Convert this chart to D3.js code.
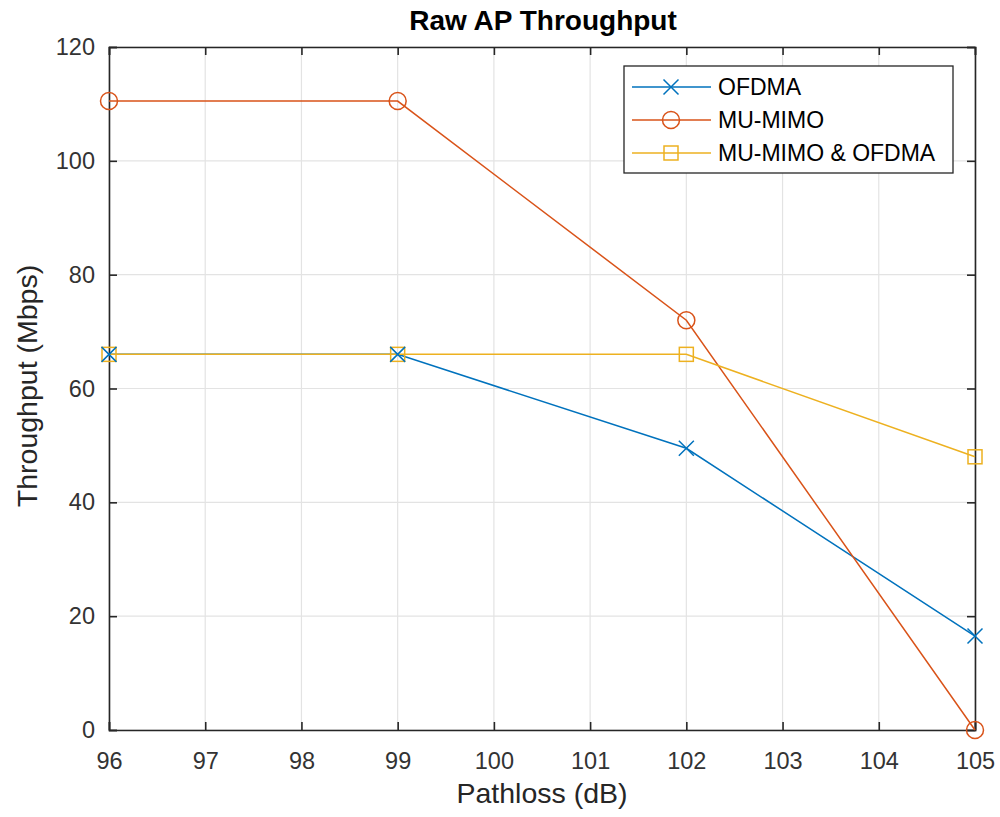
<!DOCTYPE html>
<html><head><meta charset="utf-8">
<script src="https://cdn.jsdelivr.net/npm/d3@7"></script>
<style>body{margin:0;background:#fff}svg{font-family:"Liberation Sans",Arial,sans-serif}</style>
</head><body><svg id="c" width="1000" height="817"></svg>
<script>
const pathloss = [96, 99, 102, 105];
const ofdma = [66, 66, 49.5, 16.5];
const muMimo = [110.5, 110.5, 72, 0];
const combined = [66, 66, 66, 48];
const xTicks = [96,97,98,99,100,101,102,103,104,105];
const yTicks = [0,20,40,60,80,100,120];
const seriesNames = ["OFDMA","MU-MIMO","MU-MIMO & OFDMA"];
const colors = ["#0072BD","#D95319","#EDB120"];
const markers = ["x","o","s"];

const svg = d3.select("#c");
const L=109,R=975,T=47,B=730;
const x = d3.scaleLinear().domain([96,105]).range([L,R]);
const y = d3.scaleLinear().domain([0,120]).range([B,T]);
const axisColor="#262626";

// grid
const g = svg.append("g");
g.selectAll(".gx").data(xTicks).join("line").attr("x1",d=>x(d)).attr("x2",d=>x(d)).attr("y1",T).attr("y2",B).attr("stroke","#e3e3e3").attr("stroke-width",1.2);
g.selectAll(".gy").data(yTicks).join("line").attr("y1",d=>y(d)).attr("y2",d=>y(d)).attr("x1",L).attr("x2",R).attr("stroke","#e3e3e3").attr("stroke-width",1.2);

// axes
const xa = svg.append("g").attr("transform",`translate(0,${B})`).call(d3.axisBottom(x).tickValues(xTicks).tickSize(-8).tickPadding(22).tickFormat(d3.format("d")));
const xa2 = svg.append("g").attr("transform",`translate(0,${T})`).call(d3.axisTop(x).tickValues(xTicks).tickSize(-8).tickFormat(""));
const ya = svg.append("g").attr("transform",`translate(${L},0)`).call(d3.axisLeft(y).tickValues(yTicks).tickSize(-8).tickPadding(14));
const ya2 = svg.append("g").attr("transform",`translate(${R},0)`).call(d3.axisRight(y).tickValues(yTicks).tickSize(-8).tickFormat(""));
[xa,xa2,ya,ya2].forEach(a=>{
  a.select(".domain").attr("stroke",axisColor).attr("stroke-width",1.6);
  a.selectAll(".tick line").attr("stroke",axisColor).attr("stroke-width",1.6);
  a.selectAll("text").attr("fill","#333").attr("font-size",23.5).attr("font-family","Liberation Sans, Arial, sans-serif");
});

function drawMarker(sel, type, color, cx, cy){
  if(type==="x"){
    const s=7.5;
    sel.append("path").attr("d",`M${cx-s},${cy-s}L${cx+s},${cy+s}M${cx-s},${cy+s}L${cx+s},${cy-s}`).attr("stroke",color).attr("stroke-width",1.5).attr("fill","none");
  } else if(type==="o"){
    sel.append("circle").attr("cx",cx).attr("cy",cy).attr("r",8.5).attr("stroke",color).attr("stroke-width",1.5).attr("fill","none");
  } else {
    sel.append("rect").attr("x",cx-7).attr("y",cy-7).attr("width",14).attr("height",14).attr("stroke",color).attr("stroke-width",1.5).attr("fill","none");
  }
}

const allSeries=[ofdma,muMimo,combined];
const line=d3.line().x((d,i)=>x(pathloss[i])).y(d=>y(d));
allSeries.forEach((s,k)=>{
  svg.append("path").datum(s).attr("d",line).attr("fill","none").attr("stroke",colors[k]).attr("stroke-width",1.5);
});
[1,2,0].forEach(k=>{
  const gg=svg.append("g");
  allSeries[k].forEach((v,i)=>drawMarker(gg,markers[k],colors[k],x(pathloss[i]),y(v)));
});

// title and labels
svg.append("text").attr("x",543).attr("y",30).attr("text-anchor","middle").attr("font-weight","bold").attr("font-size",28).attr("fill","#000").text("Raw AP Throughput");
svg.append("text").attr("x",542).attr("y",803).attr("text-anchor","middle").attr("font-size",28.5).attr("fill","#262626").text("Pathloss (dB)");
svg.append("text").attr("transform",`translate(37,386) rotate(-90)`).attr("text-anchor","middle").attr("font-size",28.5).attr("fill","#262626").text("Throughput (Mbps)");

// legend
const lg=svg.append("g");
lg.append("rect").attr("x",624).attr("y",66).attr("width",329).attr("height",107).attr("fill","#fff").attr("stroke",axisColor).attr("stroke-width",1.3);
seriesNames.forEach((n,k)=>{
  const yy=87+k*33;
  lg.append("line").attr("x1",632).attr("x2",711).attr("y1",yy).attr("y2",yy).attr("stroke",colors[k]).attr("stroke-width",1.5);
  drawMarker(lg,markers[k],colors[k],671,yy);
  lg.append("text").attr("x",718).attr("y",yy+8).attr("font-size",23).attr("fill","#000").text(n);
});
</script></body></html>
